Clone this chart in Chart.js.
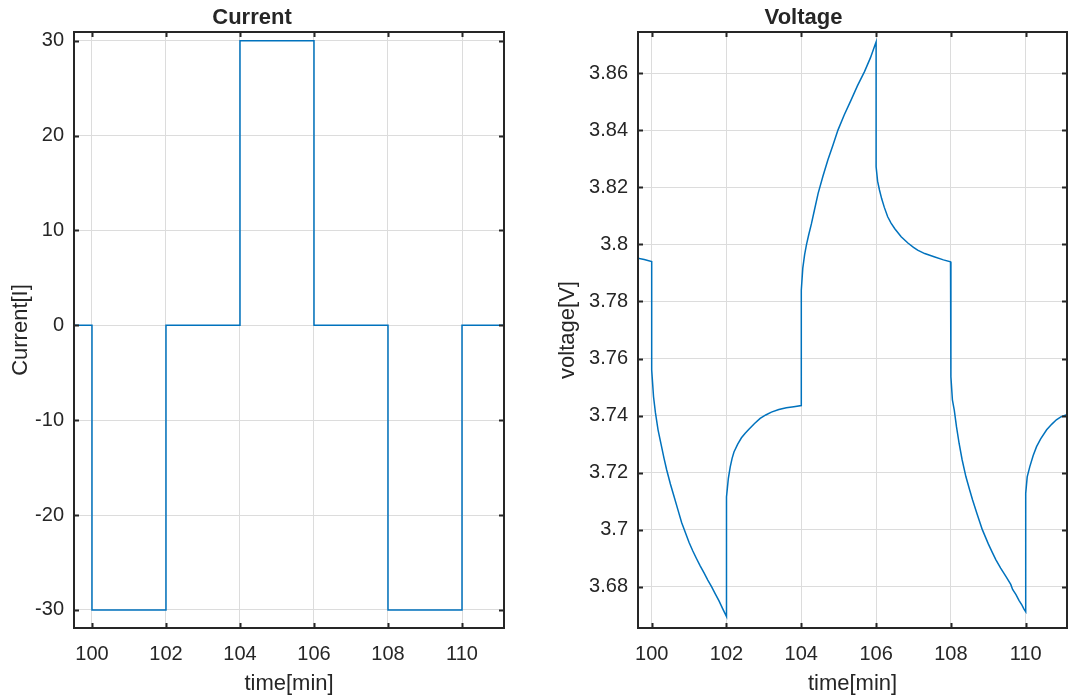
<!DOCTYPE html>
<html>
<head>
<meta charset="utf-8">
<script src="https://cdn.jsdelivr.net/npm/chart.js@4.4.1/dist/chart.umd.min.js"></script>
<style>
  html, body { margin: 0; padding: 0; background: #ffffff; }
  #wrap { position: relative; width: 1070px; height: 697px; overflow: hidden; }
  .cv { position: absolute; top: 0; }
</style>
</head>
<body>
<div id="wrap">
  <canvas id="cCurrent" class="cv" width="520" height="697" style="left:0px"></canvas>
  <canvas id="cVoltage" class="cv" width="530" height="697" style="left:540px"></canvas>
</div>
<script>
// ---------------- DATA ----------------
const currentTime = [99.51, 100, 100, 102, 102, 104, 104, 106, 106, 108, 108, 110, 110, 111.14];
const currentValues = [0, 0, -30, -30, 0, 0, 30, 30, 0, 0, -30, -30, 0, 0];

const voltageTime = [
  99.63, 99.8, 100.0,
  100.0, 100.05, 100.1, 100.17, 100.25, 100.33, 100.4, 100.5, 100.6, 100.7, 100.8, 100.9,
  101.0, 101.1, 101.2, 101.3, 101.4, 101.5, 101.6, 101.7, 101.8, 101.9, 102.0,
  102.0, 102.05, 102.1, 102.15, 102.2, 102.3, 102.4, 102.5, 102.6, 102.75, 102.9,
  103.05, 103.2, 103.4, 103.6, 103.8, 104.0,
  104.0, 104.04, 104.09, 104.14, 104.2, 104.27, 104.35, 104.45, 104.58, 104.71, 104.85,
  104.98, 105.15, 105.33, 105.5, 105.69, 105.85, 105.98, 106.0,
  106.0, 106.04, 106.09, 106.15, 106.22, 106.31, 106.4, 106.5, 106.67, 106.85, 107.0,
  107.11, 107.3, 107.55, 107.8, 107.99, 108.0,
  108.0, 108.04, 108.09, 108.15, 108.22, 108.3, 108.4, 108.5, 108.58, 108.7, 108.84,
  109.0, 109.1, 109.2, 109.33, 109.47, 109.6, 109.65, 109.74, 109.82, 109.9, 109.95, 110.0,
  110.0, 110.04, 110.11, 110.2, 110.29, 110.4, 110.56, 110.7, 110.82, 110.95, 111.1
];
const voltageValues = [
  3.7952, 3.7947, 3.7940,
  3.7560, 3.7465, 3.7410, 3.7350, 3.7300, 3.7250, 3.7210, 3.7160, 3.7115, 3.7070, 3.7025, 3.6990,
  3.6955, 3.6925, 3.6898, 3.6872, 3.6848, 3.6823, 3.6800, 3.6775, 3.6750, 3.6722, 3.6695,
  3.7115, 3.7180, 3.7220, 3.7250, 3.7272, 3.7300, 3.7322, 3.7338, 3.7352, 3.7372, 3.7390,
  3.7402, 3.7412, 3.7421, 3.7427, 3.7431, 3.7435,
  3.7840, 3.7917, 3.7965, 3.8000, 3.8035, 3.8072, 3.8120, 3.8179, 3.8240, 3.8296, 3.8350,
  3.8401, 3.8455, 3.8506, 3.8556, 3.8606, 3.8655, 3.8703, 3.8710,
  3.8273, 3.8222, 3.8191, 3.8160, 3.8130, 3.8097, 3.8075, 3.8055, 3.8027, 3.8005, 3.7990,
  3.7980, 3.7968, 3.7957, 3.7946, 3.7939, 3.7937,
  3.7536, 3.7455, 3.7419, 3.7360, 3.7302, 3.7245, 3.7186, 3.7140, 3.7104, 3.7055, 3.7000,
  3.6950, 3.6922, 3.6895, 3.6865, 3.6836, 3.6808, 3.6790, 3.6772, 3.6752, 3.6735, 3.6722, 3.6712,
  3.7127, 3.7185, 3.7221, 3.7260, 3.7291, 3.7318, 3.7350, 3.7370, 3.7385, 3.7396, 3.7403
];

const timeTicks = [100, 102, 104, 106, 108, 110];
const currentTicks = [-30, -20, -10, 0, 10, 20, 30];
const voltageTicks = [3.68, 3.70, 3.72, 3.74, 3.76, 3.78, 3.80, 3.82, 3.84, 3.86];
const voltageTickLabels = ['3.68', '3.7', '3.72', '3.74', '3.76', '3.78', '3.8', '3.82', '3.84', '3.86'];

// ---------------- STYLE ----------------
const FONT = "'Liberation Sans', Arial, Helvetica, sans-serif";
const TEXT = '#262626';
const LINE = '#0072BD';
const GRID = '#dcdcdc';

const framePlugin = {
  id: 'frame',
  afterDraw(chart) {
    const { ctx, chartArea: a, scales } = chart;
    const x = scales.x, y = scales.y;
    ctx.save();
    ctx.strokeStyle = TEXT;
    ctx.lineWidth = 2;
    const tl = 5;
    ctx.beginPath();
    x.ticks.forEach(t => {
      const px = Math.round(x.getPixelForValue(t.value)) + 0.5;
      ctx.moveTo(px, a.bottom); ctx.lineTo(px, a.bottom - tl);
      ctx.moveTo(px, a.top); ctx.lineTo(px, a.top + tl);
    });
    y.ticks.forEach(t => {
      const py = Math.round(y.getPixelForValue(t.value)) + 0.5;
      ctx.moveTo(a.left, py); ctx.lineTo(a.left + tl, py);
      ctx.moveTo(a.right, py); ctx.lineTo(a.right - tl, py);
    });
    ctx.stroke();
    ctx.strokeRect(a.left, a.top, a.right - a.left, a.bottom - a.top);
    ctx.restore();
  }
};

function makeChart(id, cfg) {
  const xs = cfg.xData, ys = cfg.yData;
  const pts = xs.map((v, i) => ({ x: v, y: ys[i] }));
  return new Chart(document.getElementById(id), {
    type: 'line',
    data: {
      datasets: [{
        data: pts,
        borderColor: LINE,
        borderWidth: 1.5,
        pointRadius: 0,
        tension: 0,
        fill: false
      }]
    },
    options: {
      responsive: false,
      animation: false,
      events: [],
      layout: { padding: { left: 0, right: cfg.rightPad, top: 0, bottom: 0 } },
      plugins: {
        legend: { display: false },
        tooltip: { enabled: false },
        title: {
          display: true,
          text: cfg.title,
          color: TEXT,
          font: { family: FONT, size: 22, weight: 'bold', lineHeight: 1.2 },
          padding: { top: 5, bottom: 0.6 }
        }
      },
      scales: {
        x: {
          type: 'linear',
          min: cfg.xMin, max: cfg.xMax,
          afterBuildTicks: s => { s.ticks = timeTicks.map(v => ({ value: v })); },
          afterFit: s => { s.height = 69; },
          ticks: {
            color: TEXT, padding: 14, maxRotation: 0,
            font: { family: FONT, size: 20 },
            callback: v => String(v)
          },
          grid: { color: GRID, lineWidth: 1, drawTicks: false },
          border: { display: false },
          title: {
            display: true, text: 'time[min]', color: TEXT,
            font: { family: FONT, size: 22, lineHeight: 1.2 },
            padding: { top: 1, bottom: 0 }
          }
        },
        y: {
          type: 'linear',
          min: cfg.yMin, max: cfg.yMax,
          afterBuildTicks: s => { s.ticks = cfg.yTicks.map(v => ({ value: v })); },
          afterFit: s => { s.width = cfg.yWidth; },
          ticks: {
            color: TEXT, padding: 10,
            font: { family: FONT, size: 20 },
            callback: cfg.yLabel
          },
          grid: { color: GRID, lineWidth: 1, drawTicks: false },
          border: { display: false },
          title: {
            display: true, text: cfg.yTitle, color: TEXT,
            font: { family: FONT, size: 22, lineHeight: 1.2 },
            padding: { top: cfg.yTitlePad, bottom: 0 }
          }
        }
      }
    },
    plugins: [framePlugin]
  });
}

makeChart('cCurrent', {
  xData: currentTime, yData: currentValues,
  title: 'Current', yTitle: 'Current[I]',
  xMin: 99.514, xMax: 111.135, yMin: -31.9, yMax: 30.92,
  yTicks: currentTicks, yLabel: v => String(v),
  yWidth: 74, rightPad: 16, yTitlePad: 8
});

makeChart('cVoltage', {
  xData: voltageTime, yData: voltageValues,
  title: 'Voltage', yTitle: 'voltage[V]',
  xMin: 99.634, xMax: 111.104, yMin: 3.6655, yMax: 3.8745,
  yTicks: voltageTicks,
  yLabel: (v) => {
    const i = voltageTicks.findIndex(t => Math.abs(t - v) < 1e-6);
    return i >= 0 ? voltageTickLabels[i] : '';
  },
  yWidth: 98, rightPad: 3, yTitlePad: 15
});
</script>
</body>
</html>
